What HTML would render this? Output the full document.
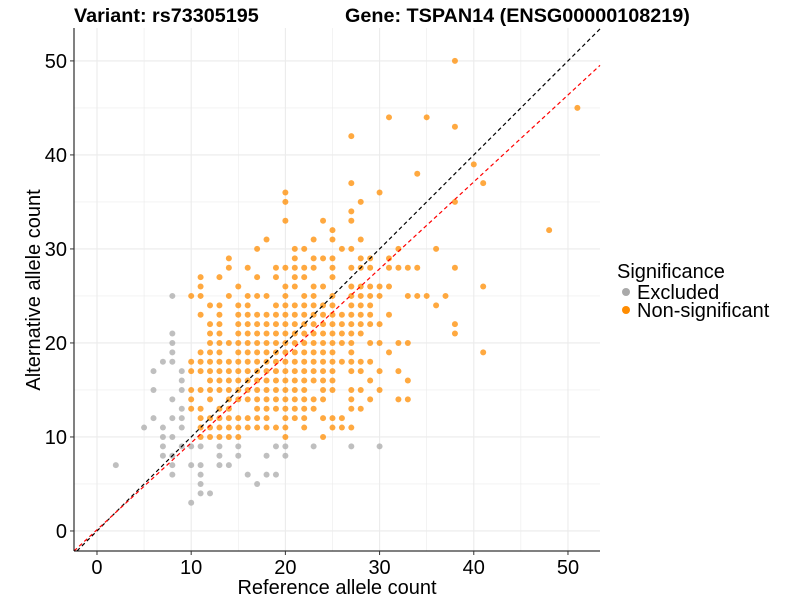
<!DOCTYPE html>
<html><head><meta charset="utf-8"><style>
body{margin:0;background:#fff;font-family:"Liberation Sans",sans-serif}
</style></head><body>
<svg id="chart" width="800" height="600" xmlns="http://www.w3.org/2000/svg" style="font-family:'Liberation Sans',sans-serif">
<g id="grid"></g>
<g id="pts"></g>
<g id="lines"></g>
<g id="axes"></g>
<text x="74" y="22" font-size="19.8" font-weight="bold">Variant: rs73305195</text>
<text x="345" y="22" font-size="19.8" font-weight="bold">Gene: TSPAN14 (ENSG00000108219)</text>
<text x="337" y="594" font-size="20" text-anchor="middle">Reference allele count</text>
<text transform="translate(40,290) rotate(-90)" font-size="20" text-anchor="middle">Alternative allele count</text>
<g>
<text x="617" y="278" font-size="20">Significance</text>
<circle cx="626" cy="292" r="4" fill="#a9a9a9"/>
<text x="637" y="299" font-size="20">Excluded</text>
<circle cx="626" cy="310" r="4" fill="#ff8c00"/>
<text x="637" y="317" font-size="20">Non-significant</text>
</g>
</svg>
<script>
const xTicks=[0,10,20,30,40,50];
const yTicks=[0,10,20,30,40,50];
// orange rows: alt value -> list of reference counts
const orangeRows={
10:[11,12,13,14,15,20,24],
11:[11,12,13,14,15,16,17,18,19,20,22,25,26,27],
12:[11,12,13,14,15,16,17,18,20,21,22,24,25,26],
13:[10,11,13,14,17,18,19,20,21,22,23,27,28],
14:[10,12,14,15,16,17,18,19,20,21,22,23,24,27,29,32,33],
15:[10,11,12,13,14,15,16,17,18,19,20,21,22,24,25,27,28,30],
16:[12,13,14,15,16,17,18,19,20,21,22,23,24,25,29,33],
17:[10,11,12,13,14,15,16,17,18,19,20,21,22,23,24,25,27,28,30,32],
18:[10,11,12,13,14,15,16,17,18,19,20,21,22,23,24,25,26,27,28,29],
19:[11,12,13,15,16,17,18,19,20,21,22,23,24,25,27,31,41],
20:[12,13,14,15,16,17,18,19,20,21,22,23,24,25,26,27,29,30,32,33],
21:[12,13,15,16,17,18,19,20,21,22,23,24,25,26,27,28,38],
22:[12,13,15,16,17,18,19,20,21,22,23,24,25,26,27,28,29,30,38],
23:[11,13,15,16,17,18,19,20,21,22,23,24,25,26,27,28,29,31],
24:[12,13,15,16,19,20,21,22,23,24,25,27,28,29,36],
25:[10,11,14,16,17,18,20,22,23,25,27,28,29,30,33,34,35,37],
26:[11,15,20,21,23,24,27,28,29,30,31,41],
27:[11,13,17,19,21,22,25],
28:[14,16,19,20,21,22,23,25,27,28,29,31,32,33,34,38],
29:[14,21,23,24,25,28,29,31],
30:[17,21,22,26,27,32,36],
31:[18,23,25,28],
32:[25,48],
33:[20,24,27],
34:[27],
35:[20,28,38],
36:[20,30],
37:[27,41],
38:[34],
39:[40],
42:[27],
43:[38],
44:[31,35],
45:[51],
50:[38]
};
// excluded rows: alt value -> list of reference counts
const greyRows={
3:[10],4:[11,12],5:[11,17],6:[8,11,16,18,19],7:[2,8,10,11,13,14],
8:[7,8,13,15,18,20],9:[7,9,10,11,13,15,19,20,23,27,30],
10:[7,8],11:[5,7,9],12:[6,8,9],13:[9],14:[8],15:[6,9],16:[9],
17:[6,9],18:[7,8],19:[8],20:[8],21:[8],25:[8]
};
const identitySlope=1, identityIntercept=0;
const fitSlope=0.925, fitIntercept=0.13;

const X0=-2.44,X1=53.4,Y0=-2.13,Y1=53.5;
const L=74,R=600,T=28,B=551;
const sx=v=>L+(v-X0)/(X1-X0)*(R-L);
const sy=v=>B-(v-Y0)/(Y1-Y0)*(B-T);
const NS="http://www.w3.org/2000/svg";
function mk(tag,attrs,parent){const e=document.createElementNS(NS,tag);for(const k in attrs)e.setAttribute(k,attrs[k]);parent.appendChild(e);return e;}
const grid=document.getElementById('grid');
for(let v=0;v<=50;v+=5){
 const major=v%10===0;
 const gx=mk('line',{x1:sx(v),x2:sx(v),y1:T,y2:B,stroke:'#ebebeb','stroke-width':major?1.1:0.6},grid);
 
 
 const gy=mk('line',{x1:L,x2:R,y1:sy(v),y2:sy(v),stroke:'#ebebeb','stroke-width':major?1.1:0.6},grid);
 
 
}
const pts=document.getElementById('pts');
function drawRows(rows,color,name){
 for(const a in rows){for(const r of rows[a]){
  const c=mk('circle',{cx:sx(r),cy:sy(+a),r:3,fill:color,'fill-opacity':0.75},pts);
  
  
 }}
}
drawRows(greyRows,'#a9a9a9','excluded-point');
drawRows(orangeRows,'#ff8c00','nonsignificant-point');
const lines=document.getElementById('lines');
function drawLine(m,b,color,name){
 let xa=X0,ya=m*xa+b;if(ya<Y0){ya=Y0;xa=(Y0-b)/m;}
 let xb=X1,yb=m*xb+b;if(yb>Y1){yb=Y1;xb=(Y1-b)/m;}
 const l=mk('line',{x1:sx(xa),y1:sy(ya),x2:sx(xb),y2:sy(yb),stroke:color,'stroke-width':1.2,'stroke-dasharray':'4,3'},lines);
 
 
}
drawLine(identitySlope,identityIntercept,'#000','identity-line');
drawLine(fitSlope,fitIntercept,'#ff0000','fit-line');
const axes=document.getElementById('axes');
const ya=mk('line',{x1:L,x2:L,y1:T,y2:B,stroke:'#000','stroke-width':1},axes);


const xa=mk('line',{x1:L,x2:R,y1:B,y2:B,stroke:'#000','stroke-width':1},axes);


for(const v of xTicks){
 const t=mk('line',{x1:sx(v),x2:sx(v),y1:B,y2:B+4,stroke:'#333'},axes);
 
 
 const tx=mk('text',{x:sx(v),y:B+23,'font-size':20,'text-anchor':'middle',fill:'#000'},axes);
 tx.textContent=v;
 
 
}
for(const v of yTicks){
 const t=mk('line',{x1:L-4,x2:L,y1:sy(v),y2:sy(v),stroke:'#333'},axes);
 
 
 const tx=mk('text',{x:L-7,y:sy(v)+7,'font-size':20,'text-anchor':'end',fill:'#000'},axes);
 tx.textContent=v;
 
 
}
</script>
</body></html>
